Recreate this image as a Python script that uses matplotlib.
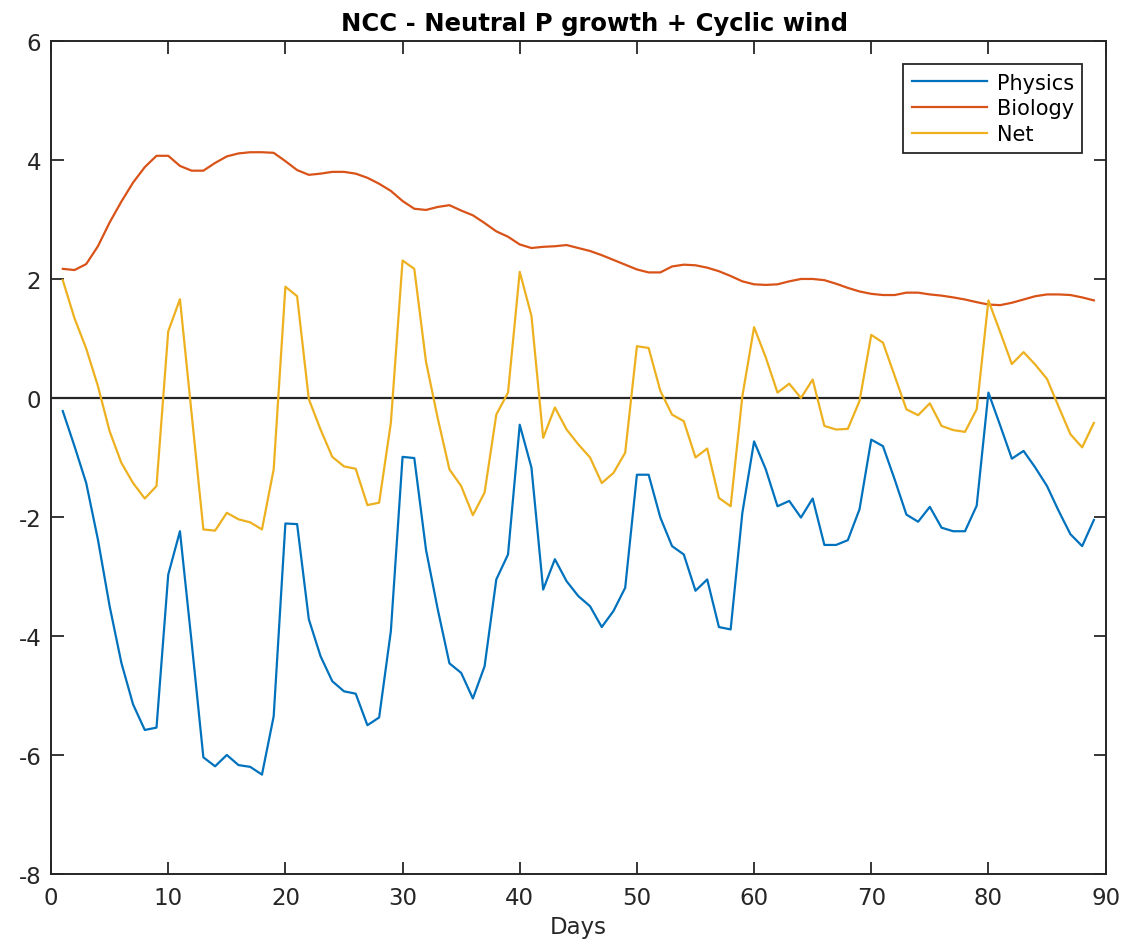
import numpy as np
import matplotlib.pyplot as plt

plt.rcParams['axes.unicode_minus'] = False

# daily contributions to NCC, days 1..89
days = np.arange(1, 90)

physics = [
    -0.22, -0.81, -1.43, -2.38, -3.50, -4.45, -5.15, -5.58, -5.54, -2.97,
    -2.24, -4.11, -6.04, -6.19, -6.00, -6.17, -6.20, -6.33, -5.35, -2.11,
    -2.12, -3.72, -4.34, -4.76, -4.93, -4.97, -5.50, -5.37, -3.92, -0.99,
    -1.01, -2.55, -3.55, -4.46, -4.62, -5.05, -4.51, -3.05, -2.63, -0.45,
    -1.17, -3.22, -2.71, -3.08, -3.33, -3.50, -3.85, -3.58, -3.19, -1.29,
    -1.29, -2.01, -2.49, -2.63, -3.24, -3.05, -3.85, -3.89, -1.93, -0.73,
    -1.20, -1.82, -1.73, -2.01, -1.69, -2.47, -2.47, -2.39, -1.87, -0.70,
    -0.81, -1.37, -1.96, -2.08, -1.83, -2.18, -2.24, -2.24, -1.81, 0.09,
    -0.46, -1.02, -0.89, -1.17, -1.48, -1.90, -2.29, -2.49, -2.05,
]

biology = [
    2.17, 2.15, 2.25, 2.55, 2.95, 3.30, 3.62, 3.88, 4.07, 4.07,
    3.90, 3.82, 3.82, 3.95, 4.06, 4.11, 4.13, 4.13, 4.12, 3.98,
    3.83, 3.75, 3.77, 3.80, 3.80, 3.77, 3.70, 3.60, 3.48, 3.31,
    3.18, 3.16, 3.21, 3.24, 3.15, 3.07, 2.94, 2.80, 2.71, 2.58,
    2.52, 2.54, 2.55, 2.57, 2.52, 2.47, 2.40, 2.32, 2.24, 2.16,
    2.11, 2.11, 2.21, 2.24, 2.23, 2.19, 2.13, 2.05, 1.96, 1.91,
    1.90, 1.91, 1.96, 2.00, 2.00, 1.98, 1.92, 1.85, 1.79, 1.75,
    1.73, 1.73, 1.77, 1.77, 1.74, 1.72, 1.69, 1.655, 1.61, 1.57,
    1.56, 1.60, 1.655, 1.71, 1.74, 1.74, 1.73, 1.69, 1.64,
]

net = [
    1.98, 1.34, 0.83, 0.20, -0.56, -1.09, -1.43, -1.69, -1.48, 1.12,
    1.66, -0.27, -2.21, -2.23, -1.93, -2.04, -2.09, -2.21, -1.20, 1.87,
    1.71, -0.02, -0.53, -0.99, -1.15, -1.19, -1.80, -1.76, -0.42, 2.31,
    2.17, 0.61, -0.34, -1.20, -1.48, -1.97, -1.59, -0.28, 0.09, 2.12,
    1.38, -0.67, -0.16, -0.53, -0.78, -1.00, -1.43, -1.26, -0.92, 0.87,
    0.84, 0.12, -0.28, -0.39, -1.00, -0.85, -1.68, -1.82, 0.03, 1.19,
    0.68, 0.09, 0.24, 0.00, 0.31, -0.47, -0.53, -0.52, -0.05, 1.06,
    0.93, 0.37, -0.19, -0.29, -0.09, -0.47, -0.54, -0.57, -0.19, 1.64,
    1.11, 0.57, 0.77, 0.56, 0.32, -0.15, -0.61, -0.83, -0.42,
]

fig = plt.figure(figsize=(11.27, 9.45), dpi=100)
ax = fig.add_axes([0.0453, 0.0741, 0.9357, 0.8815])

ax.plot(days, physics, color='#0072BD', lw=1.6, label='Physics')
ax.plot(days, biology, color='#D95319', lw=1.6, label='Biology')
ax.plot(days, net, color='#EDB120', lw=1.6, label='Net')
ax.axhline(0, color='#262626', lw=1.6, zorder=1)

ax.set_xlim(0, 90)
ax.set_ylim(-8, 6)
ax.set_xticks(np.arange(0, 91, 10))
ax.set_yticks(np.arange(-8, 7, 2))

for s in ax.spines.values():
    s.set_color('#262626')
    s.set_linewidth(1.4)
ax.tick_params(direction='in', length=9, width=1.3, colors='#262626',
               labelsize=16.5, top=True, right=True)
ax.tick_params(axis='x', pad=9)
ax.tick_params(axis='y', pad=7)
for lbl in ax.get_xticklabels() + ax.get_yticklabels():
    lbl.set_color('#262626')

ax.set_xlabel('Days', fontsize=16.5, color='#262626', labelpad=4)
ax.set_title('NCC - Neutral P growth + Cyclic wind', fontsize=17.5,
             fontweight='bold', pad=8, x=0.515)

leg = ax.legend(loc='upper right', bbox_to_anchor=(0.978, 0.972),
                fontsize=15, fancybox=False, framealpha=1,
                edgecolor='#262626', handlelength=3.6, borderpad=0.4,
                labelspacing=0.28, handletextpad=0.5, borderaxespad=0)
leg.get_frame().set_linewidth(1.3)

fig.savefig('out.png', dpi=100)
